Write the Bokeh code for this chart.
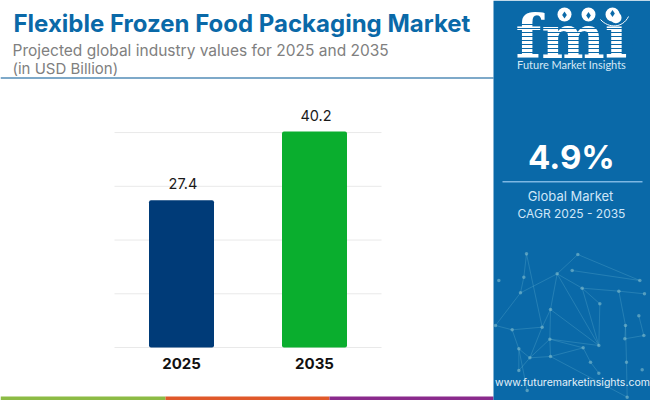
from bokeh.core.properties import value
from bokeh.embed import file_html
from bokeh.models import ColumnDataSource, FixedTicker, Label, LinearAxis, Range1d, LabelSet
from bokeh.plotting import figure
from bokeh.resources import INLINE

# ---- data
years = [2025, 2035]
values = [27.4, 40.2]
value_labels = ["27.4", "40.2"]
bar_colors = ["#003b78", "#0aae2e"]
grid_values = [0, 10, 20, 30, 40]

title = "Flexible Frozen Food Packaging Market"
subtitle = ["Projected global industry values for 2025 and 2035", "(in USD Billion)"]
cagr = "4.9%"
cagr_lines = ["Global Market", "CAGR 2025 - 2035"]
site = "www.futuremarketinsights.com"
brand = "Future Market Insights"

W, H = 650, 400
SIDE = "#0a69a8"

# scale of the chart: 13.3 px per year, 5.373 px per billion
PX_YEAR = 13.3
PX_VAL = 5.373
X_2025 = 181
Y_ZERO = 347
x_range = Range1d(2025 - X_2025 / PX_YEAR, 2025 + (W - X_2025) / PX_YEAR)
y_range = Range1d(-(H - Y_ZERO) / PX_VAL, Y_ZERO / PX_VAL)

p = figure(width=W, height=H, x_range=x_range, y_range=y_range, output_backend="svg",
           toolbar_location=None, min_border=0, x_axis_type=None, y_axis_type=None,
           outline_line_color=None, background_fill_color="white", border_fill_color="white")
p.grid.visible = False
p.extra_x_ranges["px"] = Range1d(0, W)
p.extra_y_ranges["px"] = Range1d(H, 0)


def rect(l, r, t, b, color, **kw):
    p.quad(left=[l], right=[r], top=[t], bottom=[b], fill_color=color, line_color=None,
           x_range_name="px", y_range_name="px", **kw)


def text(x, y, s, size, color, style="normal", align="left", font="Inter", **kw):
    # y is the wanted baseline; labels here sit about 0.43 em below their anchor
    p.add_layout(Label(x=x, y=y - 0.43 * size, text=s, x_range_name="px", y_range_name="px",
                       text_font=font, text_font_size=f"{size}px", text_font_style=style,
                       text_color=color, text_align=align, text_baseline="alphabetic", **kw))


# chart: grid, axis, bars
p.segment(x0=[114] * len(grid_values), x1=[381] * len(grid_values), y0=grid_values, y1=grid_values,
          x_range_name="px", line_color="#e9e9e9", line_width=1)

src = ColumnDataSource(dict(year=years, value=values, label=value_labels, color=bar_colors))
p.vbar(x="year", top="value", bottom=0, width=65 / PX_YEAR, fill_color="color", line_color=None,
       source=src, border_radius=2)
p.add_layout(LabelSet(x="year", y="value", text="label", source=src, y_offset=11, x_offset=1.5,
                      text_align="center", text_baseline="alphabetic", text_font=value("Inter"),
                      text_font_size="14.5px", text_color="#1a1a1a"))

axis = LinearAxis(ticker=FixedTicker(ticks=years), fixed_location=0, axis_line_color=None,
                  major_tick_line_color=None, minor_tick_line_color=None,
                  major_label_text_font="Inter", major_label_text_font_style="bold",
                  major_label_text_font_size="15px", major_label_text_color="#111111",
                  major_label_standoff=4)
p.add_layout(axis, "below")

# title block
text(13, 33.5, title, 24, "#0a69a8", "bold")
text(12, 57, subtitle[0], 15.5, "#808080")
text(12, 74, subtitle[1], 15, "#808080")
rect(0, 493, 78.5, 76.5, "#7ea9c9")

# footer
rect(0, 165, 400, 396, "#8cbb45")
rect(165, 329, 400, 396, "#e0592a")
rect(329, 493, 400, 396, "#8a2a8c")

# sidebar
rect(493, 650, 400, 0, SIDE)

# network decoration
nodes = [(108,40),(100,110),(90,157),(25,120),(15,255),(65,268),(155,260),(180,207),(200,100),(262,42),
         (245,90),(275,143),(385,152),(448,120),(462,160),(328,190),(325,315),(178,296),(180,348),(118,352),
         (85,325),(85,390),(278,322),(300,365),(445,226),(405,255),(403,295),(460,285),(408,365),(455,388),
         (325,398),(110,450),(410,470)]
links = [(0,1),(1,2),(2,4),(0,6),(2,8),(8,9),(9,13),(10,13),(8,11),(11,12),(12,14),(11,16),(8,16),(7,16),(7,8),(6,7),
         (7,17),(17,18),(18,19),(19,20),(20,21),(5,6),(4,5),(5,20),(6,19),(17,16),(17,22),(18,22),(22,23),(23,30),
         (15,16),(11,15),(12,25),(25,26),(26,27),(25,28),(28,32),(20,31),(18,32),(24,27),(19,17),(21,19)]
px = [n[0] / 3 + 490 for n in nodes]
py = [n[1] / 3 + 240 for n in nodes]
p.segment([px[a] for a, b in links], [py[a] for a, b in links], [px[b] for a, b in links], [py[b] for a, b in links],
          line_color="#5fb0cf", line_alpha=0.45, line_width=0.7, x_range_name="px", y_range_name="px")
p.scatter(px, py, size=3.5, fill_color="#8cc4cf", fill_alpha=0.55, line_color=None,
          x_range_name="px", y_range_name="px")

# logo
text(571, 62, "fmi", 60, "white", "bold", "center", "DejaVu Serif")
stripes = list(range(24, 56, 4))
p.segment(x0=[510] * len(stripes), x1=[632] * len(stripes), y0=stripes, y1=stripes, line_color=SIDE, line_width=1.1,
          x_range_name="px", y_range_name="px", level="overlay")
p.scatter([564, 588, 612], [14, 14, 14], size=14, fill_color="white", line_color=None,
          x_range_name="px", y_range_name="px", level="overlay")
p.scatter([564, 588, 612], [14.5, 15, 13], size=7, fill_color=SIDE, line_color=None, marker="diamond",
          x_range_name="px", y_range_name="px", level="overlay")
p.bezier(x0=[600], y0=[19], x1=[628], y1=[16], cx0=[608], cy0=[28], cx1=[622], cy1=[28], line_color="white",
         line_width=1, x_range_name="px", y_range_name="px", level="overlay")
text(571, 69, brand, 11, "#d5e8f5", "normal", "center", "Lato")

# CAGR panel
text(571, 171, cagr, 33, "white", "bold", "center")
rect(502, 642, 182, 180.5, "#7db7e3")
text(570, 201, cagr_lines[0], 13, "#cfe6f8", "normal", "center")
text(571, 218, cagr_lines[1], 12, "#cfe6f8", "normal", "center")
text(572, 387, site, 10.5, "#e4f1fa", "normal", "center")

open("out.html", "w").write(file_html(p, INLINE))
